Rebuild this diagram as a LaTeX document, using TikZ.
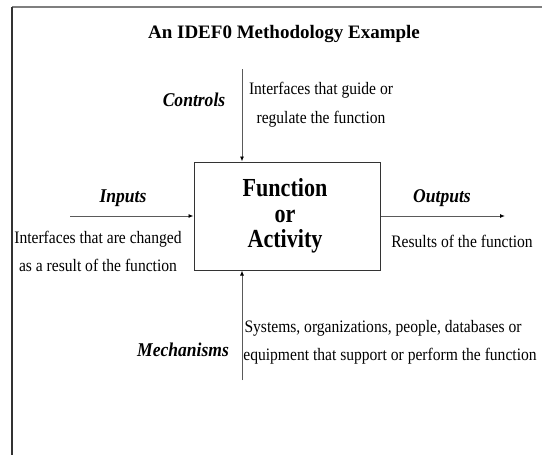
\documentclass[tikz,border=0pt]{standalone}
\usepackage{fontspec}
\setmainfont{Liberation Serif}
\usetikzlibrary{arrows.meta}
\definecolor{framegray}{HTML}{7F7F7F}
\definecolor{framedark}{HTML}{333333}
\definecolor{linegray}{HTML}{5A5A5A}
\begin{document}
\begin{tikzpicture}[x=1pt,y=-1pt,
  body/.style={font=\fontsize{17.5}{20}\selectfont, xscale=0.89, inner sep=0pt, anchor=base},
  tag/.style={font=\fontsize{19.5}{22}\selectfont\bfseries\itshape, xscale=0.9, inner sep=0pt, anchor=base},
  fntext/.style={font=\fontsize{26}{25}\selectfont\bfseries, xscale=0.85, inner sep=0pt, anchor=base},
  flow/.style={draw=linegray, line width=0.9pt, -{Latex[length=5pt,width=4pt,color=black]}},
  func/.style={draw=framedark, line width=1pt, minimum width=186pt, minimum height=108pt, inner sep=0pt}]
  \useasboundingbox (0,0) rectangle (542,455);
  % frame
  \draw[framegray, line width=1.6pt] (12,7) -- (542,7);
  \draw[framedark, line width=1.2pt] (12,7) -- (12,455);
  % title
  \node[font=\fontsize{19}{22}\selectfont\bfseries, inner sep=0pt, anchor=base] (title) at (284,38) {An IDEF0 Methodology Example};
  % function box
  \node[func] (box) at (287,216) {};
  \node[fntext] (fn1) at (285,196) {Function};
  \node[fntext] (fn2) at (285,222) {or};
  \node[fntext] (fn3) at (285,247) {Activity};
  % interface ends
  \coordinate (ctop) at (242,69);
  \coordinate (mbot) at (242,380);
  \coordinate (inl) at (70,216);
  \coordinate (outr) at (505,216);
  % connectors
  \draw[flow] (ctop) -- (ctop |- box.north);
  \draw[flow] (mbot) -- (mbot |- box.south);
  \draw[flow] (inl) -- (inl -| box.west);
  \draw[flow] (box.east |- outr) -- (outr);
  % labels
  \node[tag] (ctl) at (194,106) {Controls};
  \node[body] (ctl1) at (321,94) {Interfaces that guide or};
  \node[body] (ctl2) at (321,123) {regulate the function};
  \node[tag] (inp) at (123,202) {Inputs};
  \node[body] (inp1) at (98,243) {Interfaces that are changed};
  \node[body] (inp2) at (98,271) {as a result of the function};
  \node[tag] (outp) at (442,202) {Outputs};
  \node[body] (out1) at (462,247) {Results of the function};
  \node[tag] (mech) at (183,356) {Mechanisms};
  \node[body] (mech1) at (383,332) {Systems, organizations, people, databases or};
  \node[body] (mech2) at (390,360) {equipment that support or perform the function};
\end{tikzpicture}
\end{document}
